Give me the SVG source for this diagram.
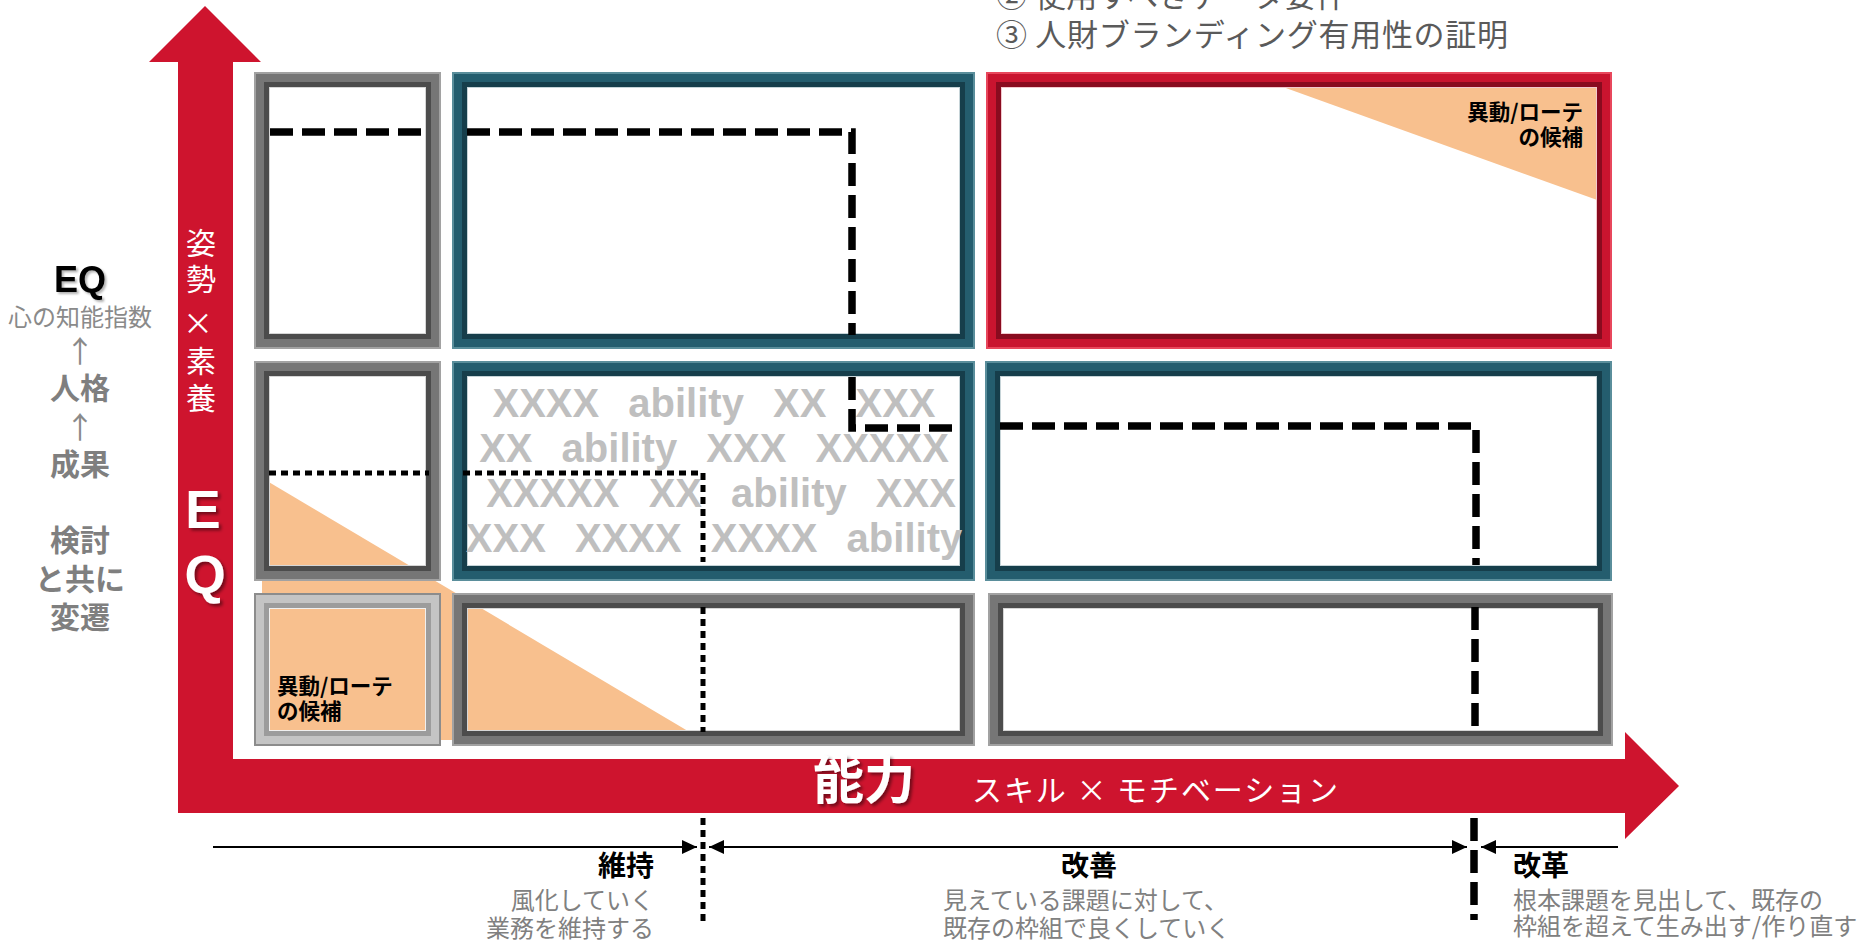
<svg xmlns="http://www.w3.org/2000/svg" width="1872" height="944" viewBox="0 0 1872 944">
<defs>
<style>
.jp{font-family:"Noto Sans CJK JP","Noto Sans",sans-serif}
.lat{font-family:"Liberation Sans",Arial,sans-serif}
.fr rect{fill:none}
.fr .b{stroke-width:16}
.fr .h{stroke-width:2}
.fr .s{stroke-width:5}
.fr .i{stroke-width:1}
.teal .b{stroke:#245d6e}.teal .h{stroke:#5a8e9b}.teal .s{stroke:#163e4b}.teal .i{stroke:#c6d4d8}
.gray .b{stroke:#767676}.gray .h{stroke:#a2a2a2}.gray .s{stroke:#4c4c4c}.gray .i{stroke:#d6d6d6}
.red .b{stroke:#c9142f}.red .h{stroke:#e8475c}.red .s{stroke:#890b1f}.red .i{stroke:#f2c9ce}
.silver .b{stroke:#c4c4c4}.silver .h{stroke:#8c8c8c}.silver .s{stroke:#9c9c9c}.silver .i{stroke:#f0f0f0}
.orange{fill:#f8c08e}
.gx{fill:#bfbfbf;font-weight:700;font-size:40px;word-spacing:18px}
.dash{fill:none;stroke:#000;stroke-width:7.5;stroke-dasharray:23 9}
.dot{fill:none;stroke:#000;stroke-width:5;stroke-dasharray:7 5}
.arr{fill:none;stroke:#000;stroke-width:2}
.lbl{font-weight:700;font-size:21.5px;fill:#000}
.side{fill:#7f7f7f;font-weight:700;font-size:30px;text-anchor:middle}
.desc{fill:#808080;font-size:24px}
.head{fill:#000;font-weight:700;font-size:28px}
</style>
<marker id="ah" viewBox="0 0 15 14" refX="15" refY="7" markerWidth="15" markerHeight="14" markerUnits="userSpaceOnUse" orient="auto-start-reverse">
<path d="M0,0 L15,7 L0,14 Z" fill="#000"/>
</marker>
<filter id="sh" x="-30%" y="-30%" width="160%" height="160%">
<feDropShadow dx="2.5" dy="2.5" stdDeviation="1.5" flood-color="#000" flood-opacity="0.45"/>
</filter>
<filter id="sh2" x="-30%" y="-30%" width="160%" height="160%">
<feDropShadow dx="2" dy="2" stdDeviation="1.2" flood-color="#000" flood-opacity="0.3"/>
</filter>
</defs>
<rect width="1872" height="944" fill="#fff"/>

<!-- top notes -->
<g id="top-notes" class="jp" fill="#5a5a5a" font-size="31">
<text x="996" y="7" textLength="351">② 使用すべきデータ要件</text>
<text x="996" y="46" textLength="512">③ 人財ブランディング有用性の証明</text>
</g>

<!-- axes -->
<g id="axes">
<path d="M149,62 L205,6 L261,62 L233,62 L233,759 L1625,759 L1625,732 L1679,786 L1625,839 L1625,813 L178,813 L178,62 Z" fill="#ce142e"/>
<text class="jp" x="813" y="799" font-size="51" font-weight="700" fill="#fff" filter="url(#sh)">能力</text>
<text class="jp" x="972" y="801" font-size="30" fill="#fff" textLength="366">スキル × モチベーション</text>
<text class="jp" font-size="30" fill="#fff" text-anchor="middle"><tspan x="201" y="254">姿</tspan><tspan x="201" y="290">勢</tspan><tspan x="198" y="334">×</tspan><tspan x="201" y="372">素</tspan><tspan x="201" y="409">養</tspan></text>
<text class="lat" font-size="53" font-weight="700" fill="#fff" text-anchor="middle" filter="url(#sh)"><tspan x="203" y="528">E</tspan><tspan x="205" y="593">Q</tspan></text>
</g>

<!-- left side labels -->
<g id="side-labels">
<text class="lat" x="80" y="292" font-size="36" font-weight="700" fill="#000" text-anchor="middle" filter="url(#sh2)">EQ</text>
<text class="jp" x="80" y="326" font-size="24" fill="#8a8a8a" text-anchor="middle">心の知能指数</text>
<text class="jp" x="80" y="362" font-size="30" fill="#8a8a8a" text-anchor="middle">↑</text>
<text class="jp side" x="80" y="399">人格</text>
<text class="jp" x="80" y="438" font-size="30" fill="#8a8a8a" text-anchor="middle">↑</text>
<text class="jp side" x="80" y="475">成果</text>
<text class="jp side" x="80" y="551">検討</text>
<text class="jp side" x="80" y="590">と共に</text>
<text class="jp side" x="80" y="628">変遷</text>
</g>

<!-- orange highlight areas -->
<g id="highlights">
<polygon class="orange" points="1283,87 1600,87 1600,201"/>
<polygon class="orange" points="262,478 262,740 703,740"/>
</g>

<!-- frames -->
<g id="cell-r1c1" class="fr gray"><rect class="b" x="262" y="80" width="171" height="261"/><rect class="h" x="255" y="73" width="185" height="275"/><rect class="s" x="266.5" y="84.5" width="162" height="252"/><rect class="i" x="269.5" y="87.5" width="156" height="246"/></g>
<g id="cell-r1c2" class="fr teal"><rect class="b" x="460" y="80" width="507" height="261"/><rect class="h" x="453" y="73" width="521" height="275"/><rect class="s" x="464.5" y="84.5" width="498" height="252"/><rect class="i" x="467.5" y="87.5" width="492" height="246"/></g>
<g id="cell-r1c3" class="fr red"><rect class="b" x="994" y="80" width="610" height="261"/><rect class="h" x="987" y="73" width="624" height="275"/><rect class="s" x="998.5" y="84.5" width="601" height="252"/><rect class="i" x="1001.5" y="87.5" width="595" height="246"/></g>
<g id="cell-r2c1" class="fr gray"><rect class="b" x="262" y="369" width="171" height="204"/><rect class="h" x="255" y="362" width="185" height="218"/><rect class="s" x="266.5" y="373.5" width="162" height="195"/><rect class="i" x="269.5" y="376.5" width="156" height="189"/></g>
<g id="cell-r2c2" class="fr teal"><rect class="b" x="460" y="369" width="507" height="204"/><rect class="h" x="453" y="362" width="521" height="218"/><rect class="s" x="464.5" y="373.5" width="498" height="195"/><rect class="i" x="467.5" y="376.5" width="492" height="189"/></g>
<g id="cell-r2c3" class="fr teal"><rect class="b" x="993" y="369" width="611" height="204"/><rect class="h" x="986" y="362" width="625" height="218"/><rect class="s" x="997.5" y="373.5" width="602" height="195"/><rect class="i" x="1000.5" y="376.5" width="596" height="189"/></g>
<g id="cell-r3c1" class="fr silver"><rect class="b" x="262" y="601" width="171" height="137"/><rect class="h" x="255" y="594" width="185" height="151"/><rect class="s" x="266.5" y="605.5" width="162" height="128"/><rect class="i" x="269.5" y="608.5" width="156" height="122"/></g>
<g id="cell-r3c2" class="fr gray"><rect class="b" x="460" y="601" width="507" height="137"/><rect class="h" x="453" y="594" width="521" height="151"/><rect class="s" x="464.5" y="605.5" width="498" height="128"/><rect class="i" x="467.5" y="608.5" width="492" height="122"/></g>
<g id="cell-r3c3" class="fr gray"><rect class="b" x="996" y="601" width="609" height="137"/><rect class="h" x="989" y="594" width="623" height="151"/><rect class="s" x="1000.5" y="605.5" width="600" height="128"/><rect class="i" x="1003.5" y="608.5" width="594" height="122"/></g>

<!-- placeholder text -->
<g id="ability-text" class="lat gx" text-anchor="middle">
<text x="714" y="417">XXXX ability XX XXX</text>
<text x="714" y="462">XX ability XXX XXXXX</text>
<text x="721" y="507">XXXXX XX ability XXX</text>
<text x="714" y="552">XXX XXXX XXXX ability</text>
</g>

<!-- cell labels -->
<g id="rotation-labels" class="jp lbl">
<text x="1583" y="120" text-anchor="end">異動/ローテ</text>
<text x="1583" y="145" text-anchor="end">の候補</text>
<text x="277" y="694">異動/ローテ</text>
<text x="277" y="719">の候補</text>
</g>

<!-- connectors -->
<g id="connectors">
<path class="dash" d="M270,132 H424"/>
<path class="dash" d="M467,132 H852 V335"/>
<path class="dash" d="M852,377 V428 H960"/>
<path class="dash" d="M1000,426 H1476 V565"/>
<path class="dash" d="M1475,607 V730"/>
<path class="dash" d="M1474,818 V920"/>
<path class="dot" d="M269,473 H429"/>
<path class="dot" d="M463,473 H703 V562"/>
<path class="dot" d="M703,607 V732"/>
<path class="dot" d="M703,818 V925"/>
<path class="arr" d="M213,847 H697" marker-end="url(#ah)"/>
<path class="arr" d="M709,847 H1467" marker-start="url(#ah)" marker-end="url(#ah)"/>
<path class="arr" d="M1481,847 H1618" marker-start="url(#ah)"/>
</g>

<!-- phase labels -->
<g id="phase-keep" class="jp">
<text class="head" x="654" y="876" text-anchor="end">維持</text>
<text class="desc" x="654" y="909" text-anchor="end">風化していく</text>
<text class="desc" x="654" y="937" text-anchor="end">業務を維持する</text>
</g>
<g id="phase-improve" class="jp">
<text class="head" x="1089" y="876" text-anchor="middle">改善</text>
<text class="desc" x="943" y="909">見えている課題に対して、</text>
<text class="desc" x="943" y="937">既存の枠組で良くしていく</text>
</g>
<g id="phase-reform" class="jp">
<text class="head" x="1513" y="876">改革</text>
<text class="desc" x="1513" y="909">根本課題を見出して、既存の</text>
<text class="desc" x="1513" y="935">枠組を超えて生み出す/作り直す</text>
</g>
</svg>
